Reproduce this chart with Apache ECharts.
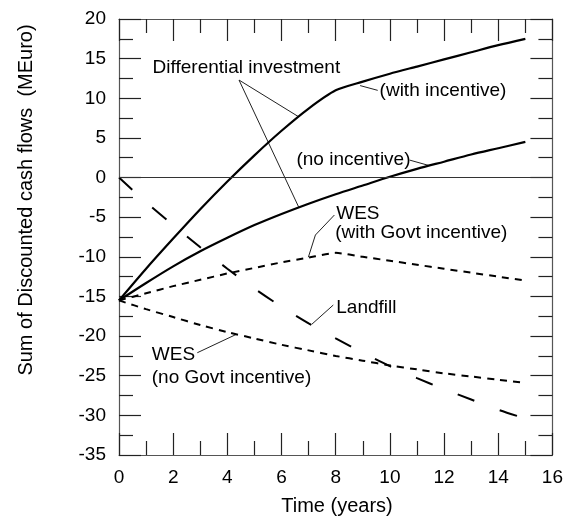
<!DOCTYPE html>
<html><head><meta charset="utf-8">
<script src="https://cdn.jsdelivr.net/npm/echarts@6/dist/echarts.min.js"></script>
<style>html,body{margin:0;padding:0;background:#fff;}#c{width:566px;height:518px;}</style>
</head><body><div id="c"></div>
<script>
const years = [0,1,2,3,4,5,6,7,8,9,10,11,12,13,14,15];
const diffWithIncentive = [-15.5,-11.5,-7.7,-4.0,-0.5,2.8,5.9,8.7,11.0,12.1,13.1,14.0,14.9,15.8,16.7,17.5];
const diffNoIncentive = [-15.5,-13.3,-11.2,-9.3,-7.6,-6.0,-4.6,-3.3,-2.1,-1.0,0.1,1.1,2.0,2.9,3.7,4.5];
const wesWithGovt = [-15.5,-14.6,-13.7,-12.9,-12.1,-11.4,-10.7,-10.1,-9.5,-10.0,-10.5,-11.0,-11.5,-12.0,-12.5,-13.0];
const wesNoGovt = [-15.5,-16.6,-17.6,-18.6,-19.5,-20.3,-21.1,-21.8,-22.5,-23.1,-23.7,-24.2,-24.7,-25.1,-25.5,-25.9];
const landfill = [0,-3.1,-6.0,-8.8,-11.5,-14.0,-16.3,-18.4,-20.3,-22.1,-23.8,-25.3,-26.7,-28.0,-29.3,-30.4];

const xTitle = 'Time (years)';
const yTitle = 'Sum of Discounted cash flows  (MEuro)';

// annotation leader lines (data coordinates)
const leaderDiff = [[6.63,7.67],[4.43,12.3],[6.63,-3.7]];
const leaderWith = [[8.9,11.6],[9.55,11.0]];
const leaderNo = [[10.73,2.2],[11.46,1.5]];
const leaderWesWith = [[7.95,-4.73],[7.25,-7.25],[6.99,-10.05]];
const leaderLandfill = [[7.91,-16.08],[7.12,-18.5]];
const leaderWesNo = [[2.89,-22.1],[4.32,-19.8]];

// annotation texts: [x, y, text]
const labels = [
  [1.24, 13.8, 'Differential investment'],
  [9.62, 11.0, '(with incentive)'],
  [6.55, 2.2, '(no incentive)'],
  [8.02, -4.6, 'WES'],
  [7.98, -7.0, '(with Govt incentive)'],
  [8.02, -16.46, 'Landfill'],
  [1.21, -22.4, 'WES'],
  [1.21, -25.3, '(no Govt incentive)']
];

const FONT = "'Liberation Sans', Arial, sans-serif";
const pairs = arr => years.map((x, i) => [x, arr[i]]);

const chart = echarts.init(document.getElementById('c'), null, {renderer: 'canvas'});

function axisCommon(showLabel) {
  return {
    type: 'value',
    axisLine: {show: true, onZero: false, lineStyle: {color: '#555', width: 1.2}},
    axisTick: {show: true, inside: true, length: 22, lineStyle: {color: '#222', width: 1.2}},
    minorTick: {show: true, splitNumber: 2, length: 14, lineStyle: {color: '#222', width: 1.2}},
    splitLine: {show: false},
    axisLabel: {show: showLabel, color: '#000', fontSize: 19, fontFamily: FONT, margin: 13}
  };
}

const leaderStyle = {color: '#222', width: 1};
function leaderSeries(d) {
  return {type: 'line', data: d, symbol: 'none', silent: true, lineStyle: leaderStyle, xAxisIndex: 0, yAxisIndex: 0, z: 1};
}

const option = {
  animation: false,
  backgroundColor: '#fff',
  grid: {left: 119, right: 10, top: 19, bottom: 63},
  xAxis: [
    Object.assign(axisCommon(true), {min: 0, max: 16, interval: 2, position: 'bottom'}),
    Object.assign(axisCommon(false), {min: 0, max: 16, interval: 2, position: 'top'})
  ],
  yAxis: [
    Object.assign(axisCommon(true), {min: -35, max: 20, interval: 5, position: 'left'}),
    Object.assign(axisCommon(false), {min: -35, max: 20, interval: 5, position: 'right'})
  ],
  series: [
    {type: 'line', data: pairs(diffWithIncentive), symbol: 'none', smooth: 0.25, lineStyle: {color: '#000', width: 2.2},
     markLine: {silent: true, symbol: 'none', label: {show: false}, lineStyle: {color: '#333', width: 1, type: 'solid'}, data: [{yAxis: 0}]}},
    {type: 'line', data: pairs(diffNoIncentive), symbol: 'none', smooth: 0.3, lineStyle: {color: '#000', width: 2.2}},
    {type: 'line', data: pairs(wesWithGovt), symbol: 'none', smooth: 0.2, lineStyle: {color: '#000', width: 2, type: [7, 6]}},
    {type: 'line', data: pairs(wesNoGovt), symbol: 'none', smooth: 0.3, lineStyle: {color: '#000', width: 2, type: [7, 6]}},
    {type: 'line', data: pairs(landfill), symbol: 'none', smooth: 0.3, lineStyle: {color: '#000', width: 2, type: [18, 27]}},
    leaderSeries(leaderDiff),
    leaderSeries(leaderWith),
    leaderSeries(leaderNo),
    leaderSeries(leaderWesWith),
    leaderSeries(leaderLandfill),
    leaderSeries(leaderWesNo)
  ]
};
chart.setOption(option);

const gfx = labels.map(l => {
  const p = chart.convertToPixel({gridIndex: 0}, [l[0], l[1]]);
  return {type: 'text', x: p[0], y: p[1], silent: true,
          style: {text: l[2], fill: '#000', font: '19px ' + FONT, textAlign: 'left', textVerticalAlign: 'middle'}};
});
gfx.push({type: 'text', x: 337, y: 506, silent: true,
  style: {text: xTitle, fill: '#000', font: '20px ' + FONT, textAlign: 'center', textVerticalAlign: 'middle'}});
gfx.push({type: 'text', x: 26, y: 200, rotation: Math.PI / 2, silent: true,
  style: {text: yTitle, fill: '#000', font: '20px ' + FONT, textAlign: 'center', textVerticalAlign: 'middle'}});
chart.setOption({graphic: gfx});
</script>
</body></html>
